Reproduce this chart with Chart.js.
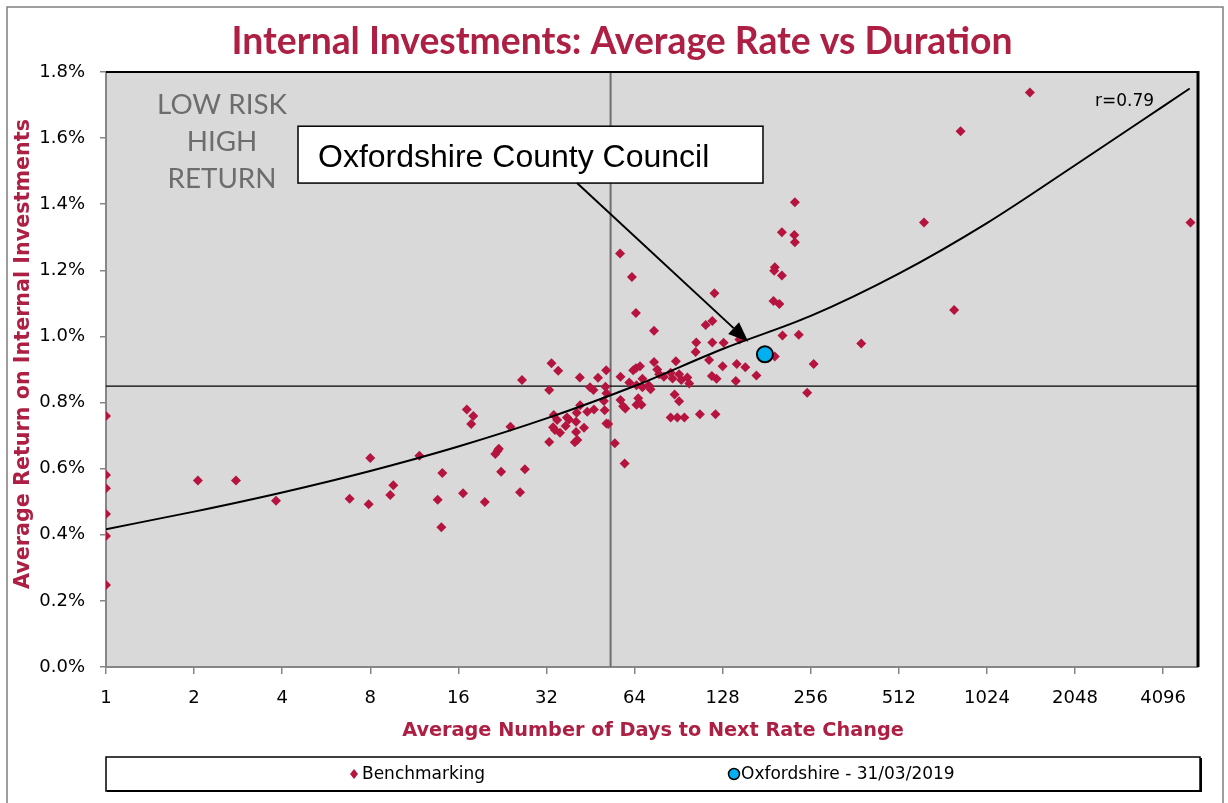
<!DOCTYPE html>
<html lang="en">
<head>
<meta charset="utf-8">
<title>Internal Investments: Average Rate vs Duration</title>
<script src="https://cdn.jsdelivr.net/npm/chart.js@4"></script>
<style>
  html, body { margin: 0; padding: 0; background: #fff; }
  #wrap { width: 1228px; height: 803px; }
</style>
</head>
<body>
<div id="wrap"><canvas id="chart" width="1228" height="803"></canvas></div>
<script>
// x axis is log2 (days), y axis is percent
const xTicks = [1, 2, 4, 8, 16, 32, 64, 128, 256, 512, 1024, 2048, 4096];

const benchDays = [
  1, 1, 1, 1, 1, 1, 2.06, 2.78, 3.81, 6.8, 7.9, 8.0, 9.36, 9.59, 11.77, 13.6, 14.1, 14.0,
  17.1, 18.0, 17.7, 16.6, 19.7, 21.4, 21.8, 22.0, 22.4, 24.1, 26.4, 27.0, 26.0,
  33.3, 35.1, 32.7, 41.6, 48.0, 51.2, 57.3, 45.1, 46.3, 50.9, 51.3, 50.3, 57.3, 58.5, 59.5,
  33.9, 33.7, 34.2, 35.6, 34.8, 37.2, 37.6, 38.2, 40.4, 40.6, 41.7, 40.4, 40.8, 40.0,
  43.0, 44.1, 46.5, 50.6, 51.3, 52.0, 32.7, 54.8, 59.2,
  57.1, 62.7, 64.7, 74.6, 120, 112, 118, 104, 103.5, 118, 115,
  61.4, 63.3, 64.7, 66.8, 74.6, 76.5, 77.7, 68.1, 65.0, 68.1, 71.5, 72.6, 80.6,
  85, 88.6, 86.3, 90.9, 92.4, 97, 98.4, 87.7, 90.9, 85, 89.6, 94.7, 107, 121, 117.6, 122,
  65, 67.6, 65.9,
  226, 204, 225, 226, 193, 192, 204, 191, 200, 129, 146, 205, 233, 193, 262,
  128, 143, 153, 167, 142, 249,
  1436, 832, 624, 5080, 791, 381
];
const benchRates = [
  0.759, 0.581, 0.541, 0.463, 0.396, 0.248, 0.564, 0.564, 0.503, 0.509, 0.492, 0.632, 0.520, 0.550, 0.639, 0.506, 0.587, 0.423,
  0.779, 0.759, 0.735, 0.526, 0.499, 0.644, 0.654, 0.660, 0.591, 0.727, 0.868, 0.598, 0.529,
  0.919, 0.896, 0.838, 0.876, 0.875, 0.898, 0.878, 0.846, 0.838, 0.848, 0.828, 0.805, 0.808, 0.789, 0.782,
  0.762, 0.725, 0.717, 0.709, 0.747, 0.729, 0.755, 0.749, 0.742, 0.769, 0.792, 0.711, 0.687, 0.680,
  0.724, 0.772, 0.779, 0.777, 0.737, 0.735, 0.681, 0.677, 0.616,
  1.251, 1.180, 1.071, 1.017, 1.131, 1.035, 1.047, 0.982, 0.953, 0.982, 0.929,
  0.861, 0.898, 0.904, 0.910, 0.923, 0.900, 0.886, 0.872, 0.852, 0.846, 0.852, 0.840, 0.878,
  0.890, 0.925, 0.873, 0.886, 0.868, 0.876, 0.858, 0.824, 0.804, 0.755, 0.755, 0.755, 0.765, 0.765, 0.880, 0.872,
  0.793, 0.793, 0.813,
  1.406, 1.315, 1.307, 1.285, 1.209, 1.199, 1.184, 1.107, 1.098, 0.981, 0.991, 1.003, 1.005, 0.939, 0.917,
  0.910, 0.917, 0.907, 0.882, 0.865, 0.830,
  1.738, 1.621, 1.345, 1.345, 1.080, 0.979
];

const oxfordDays = [178.5];
const oxfordRates = [0.946];

// trend line
const trendDays = [1, 2, 4, 8, 16, 32, 64, 128, 256, 512, 1024, 2048, 4096, 5050];
const trendRates = [0.417, 0.470, 0.528, 0.593, 0.667, 0.752, 0.850, 0.962, 1.062, 1.190, 1.343, 1.518, 1.696, 1.750];

const midDays = 53;     // vertical divider
const midRate = 0.85;   // horizontal divider

// callout box corners and arrow, in data units
const noteBox = { x0: 4.53, x1: 175.8, y0: 1.636, y1: 1.464 };
const noteArrow = { fromX: 40.7, fromY: 1.464, toX: 156.6, toY: 0.984 };

const crimson = '#ae1f44';
const diamond = '#b5143f';

function fitFont(ctx, text, weight, family, width) {
  ctx.font = weight + ' 100px ' + family;
  const size = 100 * width / ctx.measureText(text).width;
  return weight + ' ' + size.toFixed(1) + 'px ' + family;
}

const decor = {
  id: 'decor',
  beforeDraw(chart) {
    const { ctx, chartArea: a } = chart;
    ctx.save();
    ctx.fillStyle = '#fff';
    ctx.fillRect(0, 0, chart.width, chart.height);
    ctx.strokeStyle = '#7f7f7f';
    ctx.lineWidth = 1.5;
    ctx.strokeRect(7, 7, 1216, 820);
    ctx.fillStyle = '#d9d9d9';
    ctx.fillRect(a.left, a.top, a.right - a.left, a.bottom - a.top);
    ctx.restore();
  },
  beforeDatasetsDraw(chart) {
    const { ctx, chartArea: a, scales: { x, y } } = chart;
    ctx.save();
    const vx = x.getPixelForValue(midDays);
    ctx.strokeStyle = '#6e6e6e';
    ctx.lineWidth = 2;
    ctx.beginPath(); ctx.moveTo(vx, a.top); ctx.lineTo(vx, a.bottom); ctx.stroke();
    const hy = y.getPixelForValue(midRate);
    ctx.strokeStyle = '#000';
    ctx.lineWidth = 1.2;
    ctx.beginPath(); ctx.moveTo(a.left, hy); ctx.lineTo(a.right, hy); ctx.stroke();

    // quadrant label
    ctx.fillStyle = '#6d6d6d';
    ctx.textAlign = 'center';
    ctx.textBaseline = 'alphabetic';
    ctx.font = fitFont(ctx, 'LOW RISK', 'normal', 'Lato', 130);
    ctx.fillText('LOW RISK', 222, 114);
    ctx.fillText('HIGH', 222, 151);
    ctx.fillText('RETURN', 222, 188);
    ctx.restore();
  },
  afterDatasetsDraw(chart) {
    const { ctx, scales: { x, y } } = chart;
    ctx.save();
    // callout
    const bx0 = x.getPixelForValue(noteBox.x0), bx1 = x.getPixelForValue(noteBox.x1);
    const by0 = y.getPixelForValue(noteBox.y0), by1 = y.getPixelForValue(noteBox.y1);
    ctx.fillStyle = '#fff';
    ctx.fillRect(bx0, by0, bx1 - bx0, by1 - by0);
    ctx.strokeStyle = '#000';
    ctx.lineWidth = 1.5;
    ctx.strokeRect(bx0, by0, bx1 - bx0, by1 - by0);
    ctx.fillStyle = '#000';
    ctx.textAlign = 'left';
    ctx.font = fitFont(ctx, 'Oxfordshire County Council', 'normal', 'Liberation Sans', 391);
    ctx.fillText('Oxfordshire County Council', bx0 + 20, by0 + 41);

    const ax0 = x.getPixelForValue(noteArrow.fromX), ay0 = y.getPixelForValue(noteArrow.fromY);
    const ax1 = x.getPixelForValue(noteArrow.toX), ay1 = y.getPixelForValue(noteArrow.toY);
    const ang = Math.atan2(ay1 - ay0, ax1 - ax0);
    const hl = 20, hw = 8;
    const bxh = ax1 - hl * Math.cos(ang), byh = ay1 - hl * Math.sin(ang);
    ctx.lineWidth = 2;
    ctx.beginPath(); ctx.moveTo(ax0, ay0); ctx.lineTo(bxh, byh); ctx.stroke();
    ctx.beginPath();
    ctx.moveTo(ax1, ay1);
    ctx.lineTo(bxh + hw * Math.sin(ang), byh - hw * Math.cos(ang));
    ctx.lineTo(bxh - hw * Math.sin(ang), byh + hw * Math.cos(ang));
    ctx.closePath();
    ctx.fill();

    ctx.font = '17px "DejaVu Sans"';
    ctx.fillText('r=0.79', 1095, 106);
    ctx.restore();
  },
  afterDraw(chart) {
    const { ctx, chartArea: a } = chart;
    ctx.save();
    // top and right frame of the plot
    ctx.strokeStyle = '#000';
    ctx.lineWidth = 2;
    ctx.beginPath(); ctx.moveTo(a.left, a.top); ctx.lineTo(a.right, a.top); ctx.stroke();
    ctx.lineWidth = 3;
    ctx.beginPath(); ctx.moveTo(a.right, a.top - 1); ctx.lineTo(a.right, a.bottom); ctx.stroke();

    // titles
    ctx.fillStyle = crimson;
    ctx.textAlign = 'center';
    ctx.textBaseline = 'alphabetic';
    const title = 'Internal Investments: Average Rate vs Duration';
    ctx.font = fitFont(ctx, title, 'bold', 'Lato', 780);
    ctx.fillText(title, 622, 54);

    const xt = 'Average Number of Days to Next Rate Change';
    ctx.font = fitFont(ctx, xt, 'bold', '"DejaVu Sans"', 503);
    ctx.fillText(xt, 653, 736);

    const yt = 'Average Return on Internal Investments';
    ctx.translate(29, 354);
    ctx.rotate(-Math.PI / 2);
    ctx.font = fitFont(ctx, yt, 'bold', '"DejaVu Sans"', 470);
    ctx.fillText(yt, 0, 0);
    ctx.setTransform(1, 0, 0, 1, 0, 0);

    // legend
    ctx.fillStyle = '#fff';
    ctx.fillRect(106, 757, 1094, 34);
    ctx.strokeStyle = '#000';
    ctx.lineWidth = 1.5;
    ctx.strokeRect(106, 757, 1094, 34);
    ctx.lineWidth = 2;
    ctx.beginPath(); ctx.moveTo(107, 791); ctx.lineTo(1201, 791); ctx.lineTo(1201, 758); ctx.stroke();

    ctx.fillStyle = diamond;
    ctx.beginPath();
    ctx.moveTo(354, 769); ctx.lineTo(358, 774); ctx.lineTo(354, 779); ctx.lineTo(350, 774);
    ctx.closePath(); ctx.fill();
    ctx.fillStyle = '#00b0f0';
    ctx.beginPath(); ctx.arc(734, 774, 5.5, 0, Math.PI * 2); ctx.fill();
    ctx.strokeStyle = '#000'; ctx.lineWidth = 1.5; ctx.stroke();

    ctx.fillStyle = '#000';
    ctx.textAlign = 'left';
    ctx.textBaseline = 'middle';
    ctx.font = '17px "DejaVu Sans"';
    ctx.fillText('Benchmarking', 362, 775);
    ctx.fillText('Oxfordshire - 31/03/2019', 741, 775);
    ctx.restore();
  }
};

const toPoints = (xs, ys) => xs.map((v, i) => ({ x: v, y: ys[i] }));

const config = {
  type: 'scatter',
  data: {
    datasets: [
      {
        label: 'Oxfordshire - 31/03/2019',
        data: toPoints(oxfordDays, oxfordRates),
        pointStyle: 'circle',
        pointRadius: 8,
        backgroundColor: '#00b0f0',
        borderColor: '#000',
        borderWidth: 2,
        order: 0
      },
      {
        label: 'Trend',
        data: toPoints(trendDays, trendRates),
        showLine: true,
        pointRadius: 0,
        borderColor: '#000',
        borderWidth: 2,
        cubicInterpolationMode: 'monotone',
        order: 1
      },
      {
        label: 'Benchmarking',
        data: toPoints(benchDays, benchRates),
        pointStyle: 'rectRot',
        pointRadius: 5,
        backgroundColor: diamond,
        borderWidth: 0,
        order: 2
      }
    ]
  },
  options: {
    responsive: false,
    animation: false,
    layout: { padding: { top: 72, right: 30, left: 0, bottom: 0 } },
    plugins: {
      legend: { display: false },
      title: { display: false },
      tooltip: { enabled: false }
    },
    scales: {
      x: {
        type: 'logarithmic',
        min: 1,
        max: 5390,
        afterBuildTicks: (s) => { s.ticks = xTicks.map(v => ({ value: v })); },
        afterFit: (s) => { s.height = 136; },
        ticks: {
          autoSkip: false,
          maxRotation: 0,
          padding: 14,
          color: '#000',
          font: { family: 'DejaVu Sans', size: 18 },
          callback: (v) => String(v)
        },
        grid: { drawOnChartArea: false, drawTicks: true, tickLength: 7, color: '#868686', lineWidth: 1.5 },
        border: { color: '#868686', width: 2 }
      },
      y: {
        min: 0,
        max: 1.8,
        afterFit: (s) => { s.width = 106; },
        ticks: {
          stepSize: 0.2,
          padding: 15,
          color: '#000',
          font: { family: 'DejaVu Sans', size: 18 },
          callback: (v) => v.toFixed(1) + '%'
        },
        grid: { drawOnChartArea: false, drawTicks: true, tickLength: 6, color: '#868686', lineWidth: 1.5 },
        border: { color: '#868686', width: 2 }
      }
    }
  },
  plugins: [decor]
};

new Chart(document.getElementById('chart'), config);
</script>
</body>
</html>
